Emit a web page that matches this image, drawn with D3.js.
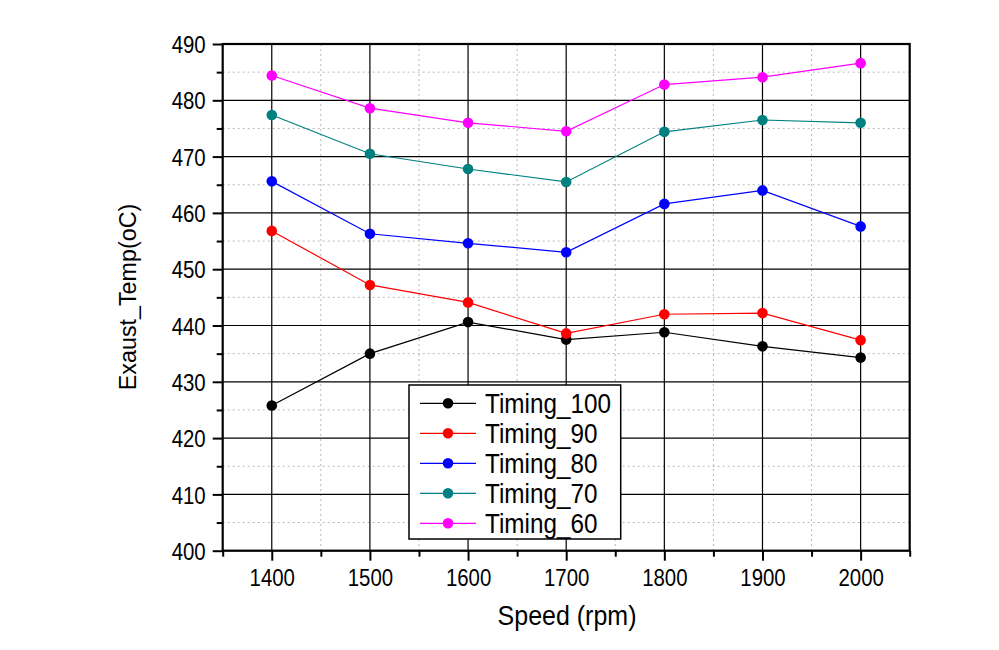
<!DOCTYPE html>
<html>
<head>
<meta charset="utf-8">
<script src="https://cdnjs.cloudflare.com/ajax/libs/d3/7.8.5/d3.min.js"></script>
<style>
html,body{margin:0;padding:0;background:#fff;}
svg{display:block;font-family:"Liberation Sans",Arial,sans-serif;}
</style>
</head>
<body>
<svg id="chart" width="999" height="650"></svg>
<script>
const speeds = [1400, 1500, 1600, 1700, 1800, 1900, 2000];
const seriesNames = ["Timing_100", "Timing_90", "Timing_80", "Timing_70", "Timing_60"];
const seriesColors = ["#000000", "#ff0000", "#0000ff", "#008080", "#ff00ff"];
const timing100 = [425.8, 435.0, 440.6, 437.5, 438.8, 436.3, 434.3];
const timing90  = [456.8, 447.2, 444.1, 438.6, 442.0, 442.2, 437.4];
const timing80  = [465.6, 456.3, 454.6, 453.0, 461.6, 464.0, 457.6];
const timing70  = [477.4, 470.5, 467.8, 465.5, 474.4, 476.5, 476.0];
const timing60  = [484.4, 478.6, 476.0, 474.5, 482.8, 484.1, 486.6];
const xTicks = [1400, 1500, 1600, 1700, 1800, 1900, 2000];
const xMinorTicks = [1350, 1450, 1550, 1650, 1750, 1850, 1950, 2050];
const yTicks = [400, 410, 420, 430, 440, 450, 460, 470, 480, 490];
const yMinorTicks = [405, 415, 425, 435, 445, 455, 465, 475, 485];

const seriesValues = [timing100, timing90, timing80, timing70, timing60];

const svg = d3.select("#chart");
const L = 222.7, R = 909.7, T = 44, B = 550.7;
const x = d3.scaleLinear().domain([1350, 2050]).range([L, R]);
const y = d3.scaleLinear().domain([400, 490]).range([B, T]);
const FONT = "Liberation Sans, Arial, sans-serif";

// minor grid
const g = svg.append("g");
g.selectAll(".vminor").data(xMinorTicks.filter(d => d > 1350 && d < 2050)).enter().append("line")
  .attr("x1", d => x(d)).attr("x2", d => x(d)).attr("y1", T).attr("y2", B)
  .attr("stroke", "#b8b8b8").attr("stroke-width", 1).attr("stroke-dasharray", "2,3");
g.selectAll(".hminor").data(yMinorTicks).enter().append("line")
  .attr("x1", L).attr("x2", R).attr("y1", d => y(d)).attr("y2", d => y(d))
  .attr("stroke", "#b8b8b8").attr("stroke-width", 1).attr("stroke-dasharray", "2,3");
// major grid
g.selectAll(".vmajor").data(xTicks).enter().append("line")
  .attr("x1", d => x(d)).attr("x2", d => x(d)).attr("y1", T).attr("y2", B)
  .attr("stroke", "#000").attr("stroke-width", 1.2);
g.selectAll(".hmajor").data(yTicks).enter().append("line")
  .attr("x1", L).attr("x2", R).attr("y1", d => y(d)).attr("y2", d => y(d))
  .attr("stroke", "#000").attr("stroke-width", 1.2);

// axes
const xAxis = d3.axisBottom(x).tickValues(xTicks).tickSize(10).tickFormat(d3.format("d"));
const xAxisMinor = d3.axisBottom(x).tickValues(xMinorTicks).tickSize(6).tickFormat("");
const yAxis = d3.axisLeft(y).tickValues(yTicks).tickSize(10).tickFormat(d3.format("d"));
const yAxisMinor = d3.axisLeft(y).tickValues(yMinorTicks).tickSize(6).tickFormat("");

function styleAxis(sel) {
  sel.select(".domain").remove();
  sel.attr("font-size", null).attr("font-family", null);
  sel.selectAll("line").attr("stroke", "#000").attr("stroke-width", 2);
  sel.selectAll("text").attr("font-size", 20.4).attr("fill", "#000").attr("font-family", FONT);
}
svg.append("g").attr("transform", `translate(0,${B})`).call(xAxisMinor).call(styleAxis);
svg.append("g").attr("transform", `translate(0,${B})`).call(xAxis).call(styleAxis)
  .selectAll("text").attr("y", 0).attr("dy", "0.36em")
  .attr("transform", "translate(0,26.3) scale(1,1.17)");
svg.append("g").attr("transform", `translate(${L},0)`).call(yAxisMinor).call(styleAxis);
svg.append("g").attr("transform", `translate(${L},0)`).call(yAxis).call(styleAxis)
  .selectAll("text").attr("x", -17).attr("dy", "0.36em")
  .attr("transform", "scale(1,1.17)");

// frame
svg.append("rect").attr("x", L).attr("y", T).attr("width", R - L).attr("height", B - T)
  .attr("fill", "none").attr("stroke", "#000").attr("stroke-width", 2.2);

// series
const line = d3.line().x((d, i) => x(speeds[i])).y(d => y(d));
seriesValues.forEach((vals, si) => {
  const sg = svg.append("g");
  sg.append("path").datum(vals).attr("d", line)
    .attr("fill", "none").attr("stroke", seriesColors[si]).attr("stroke-width", 1.2);
  sg.selectAll("circle").data(vals).enter().append("circle")
    .attr("cx", (d, i) => x(speeds[i])).attr("cy", d => y(d)).attr("r", 5.3)
    .attr("fill", seriesColors[si]);
});

// legend
const lg = svg.append("g");
lg.append("rect").attr("x", 409).attr("y", 385).attr("width", 211.7).attr("height", 154)
  .attr("fill", "#fff").attr("stroke", "#000").attr("stroke-width", 1.5);
seriesNames.forEach((name, i) => {
  const yy = 403.3 + i * 30;
  lg.append("line").attr("x1", 420).attr("x2", 476).attr("y1", yy).attr("y2", yy)
    .attr("stroke", seriesColors[i]).attr("stroke-width", 1.2);
  lg.append("circle").attr("cx", 448).attr("cy", yy).attr("r", 5.3).attr("fill", seriesColors[i]);
  lg.append("text").attr("transform", `translate(485,${yy}) scale(1,1.12)`).attr("dy", "0.36em")
    .attr("font-size", 24.3).attr("fill", "#000").attr("font-family", FONT).text(name);
});

// axis titles
svg.append("text").attr("transform", "translate(567,625) scale(1,1.12)").attr("text-anchor", "middle")
  .attr("font-size", 25).attr("fill", "#000").attr("font-family", FONT).text("Speed (rpm)");
svg.append("text").attr("transform", "translate(136,297) rotate(-90)").attr("text-anchor", "middle")
  .attr("font-size", 23.3).attr("fill", "#000").attr("font-family", FONT).text("Exaust_Temp(oC)");
</script>
</body>
</html>
